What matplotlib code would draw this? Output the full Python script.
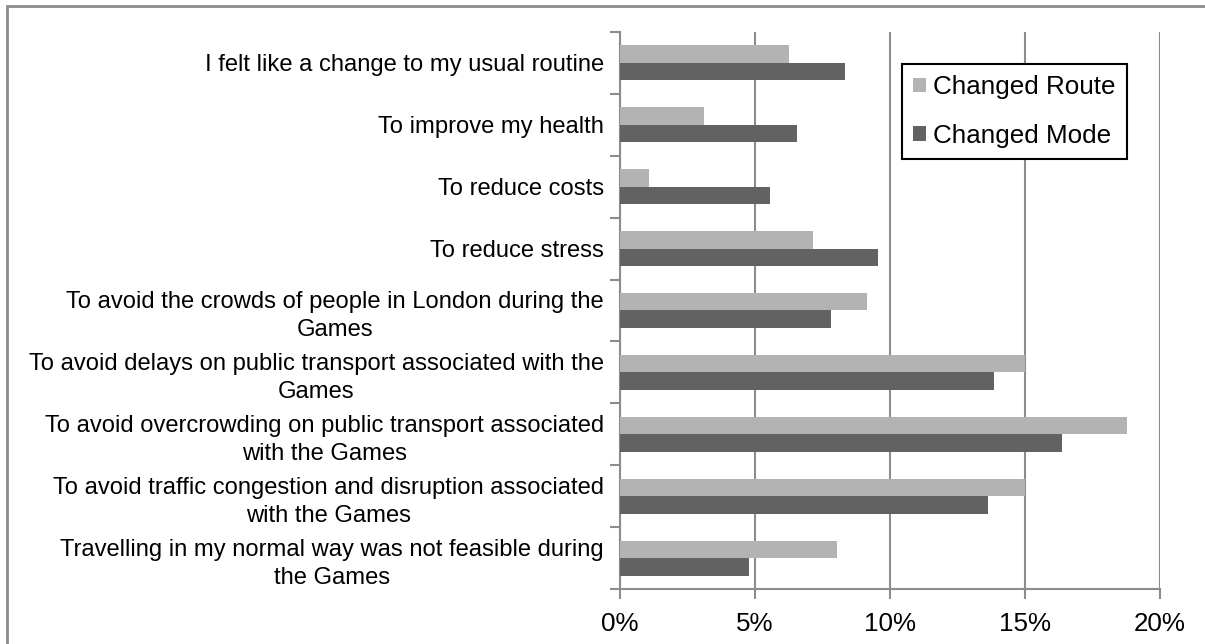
import matplotlib
matplotlib.use("Agg")
import matplotlib.pyplot as plt
from matplotlib.patches import Rectangle
from matplotlib.ticker import FuncFormatter, FixedLocator
import numpy as np

plt.rcParams['font.family'] = ['Liberation Sans', 'DejaVu Sans']

categories = [
    "I felt like a change to my usual routine",
    "To improve my health",
    "To reduce costs",
    "To reduce stress",
    "To avoid the crowds of people in London during the\nGames",
    "To avoid delays on public transport associated with the\nGames",
    "To avoid overcrowding on public transport associated\nwith the Games",
    "To avoid traffic congestion and disruption associated\nwith the Games",
    "Travelling in my normal way was not feasible during\nthe Games",
]
changed_route = [6.26, 3.11, 1.08, 7.13, 9.15, 15.0, 18.77, 15.0, 8.05]
changed_mode = [8.33, 6.57, 5.55, 9.57, 7.80, 13.87, 16.38, 13.62, 4.78]
x_ticks = [0, 5, 10, 15, 20]

ROUTE_COLOR = "#b3b3b3"
MODE_COLOR = "#626262"
GRID_COLOR = "#8c8c8c"

fig = plt.figure(figsize=(12.05, 6.44), dpi=100)
ax = fig.add_axes([620 / 1205, 54.7 / 644, 540 / 1205, 557.6 / 644])

y = np.arange(len(categories))
h = 0.285
ax.barh(y - h / 2, changed_route, height=h, color=ROUTE_COLOR,
        label="Changed Route", zorder=3)
ax.barh(y + h / 2, changed_mode, height=h, color=MODE_COLOR,
        label="Changed Mode", zorder=3)

ax.set_xlim(0, 20)
ax.set_ylim(len(categories) - 0.5, -0.5)

# x axis
ax.xaxis.set_major_locator(FixedLocator(x_ticks))
ax.xaxis.set_major_formatter(FuncFormatter(lambda v, p: f"{v:.0f}%"))
ax.tick_params(axis='x', which='major', direction='out', length=7,
               width=1.5, color=GRID_COLOR, labelsize=18.7, pad=9)
ax.grid(axis='x', color=GRID_COLOR, linewidth=1.5, zorder=0)
ax.set_axisbelow(True)

# y axis: ticks at category boundaries, labels at centres
ax.yaxis.set_major_locator(FixedLocator(np.arange(-0.5, len(categories), 1.0)))
ax.yaxis.set_major_formatter(FuncFormatter(lambda v, p: ""))
ax.yaxis.set_minor_locator(FixedLocator(y))
ax.set_yticklabels(categories, minor=True)
ax.tick_params(axis='y', which='major', direction='out', length=7,
               width=1.5, color=GRID_COLOR)
ax.tick_params(axis='y', which='minor', length=0, labelsize=17.1, pad=11.5)
for lbl in ax.get_yticklabels(minor=True):
    lbl.set_multialignment('center')
    lbl.set_linespacing(1.35)

for side in ('top', 'right'):
    ax.spines[side].set_visible(False)
for side in ('left', 'bottom'):
    ax.spines[side].set_color(GRID_COLOR)
    ax.spines[side].set_linewidth(1.5)

leg = ax.legend(loc='upper left', bbox_to_anchor=((901.7 - 620) / 540, (589.3 - 64.3) / 557.6),
                borderaxespad=0, fontsize=18.7, handlelength=0.5, handleheight=0.5,
                handletextpad=0.3, borderpad=0.42, labelspacing=0.95,
                fancybox=False, framealpha=1, edgecolor='black')
leg.get_frame().set_linewidth(1.5)

# outer chart frame
fig.add_artist(Rectangle((6.7 / 1205, -0.1), 1.2, 1 - 5.7 / 644 + 0.1,
                         transform=fig.transFigure, fill=False,
                         edgecolor=GRID_COLOR, linewidth=2, clip_on=False))

fig.savefig("out.png", dpi=100)
